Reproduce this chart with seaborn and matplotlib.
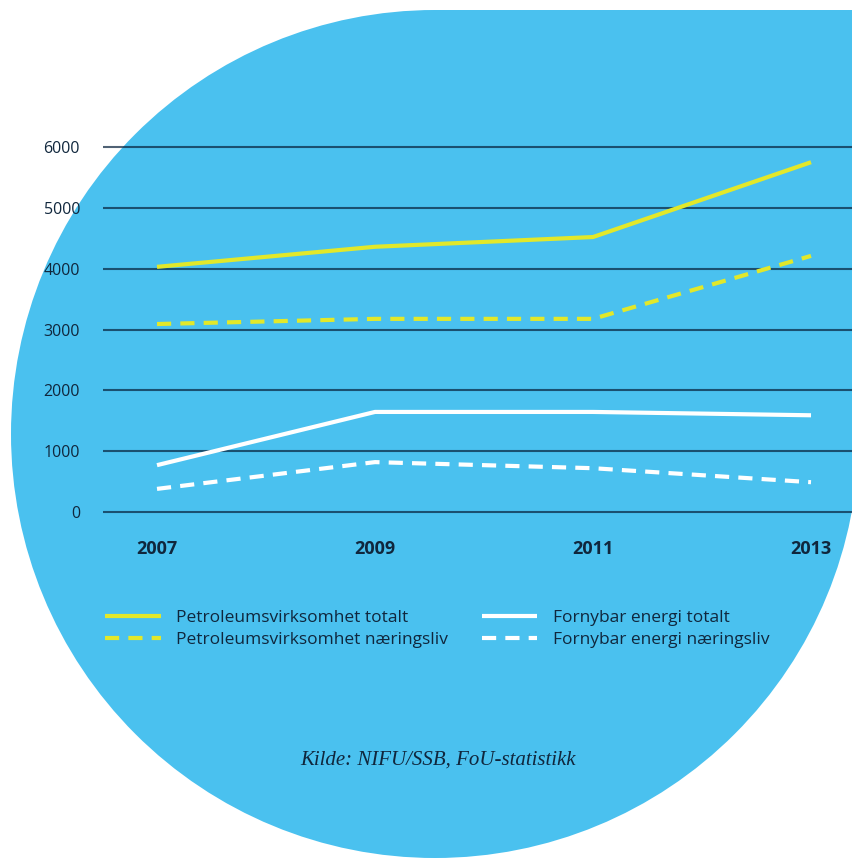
import matplotlib
matplotlib.use("Agg")
import matplotlib.pyplot as plt
from matplotlib.patches import Circle, Rectangle
import seaborn as sns

# ── Data (FoU-utgifter, mill. kr) ────────────────────────────
years = [2007, 2009, 2011, 2013]
petro_totalt = [4030, 4360, 4520, 5750]
petro_naering = [3090, 3175, 3175, 4210]
fornybar_totalt = [770, 1645, 1645, 1590]
fornybar_naering = [380, 820, 720, 490]

labels = [
    "Petroleumsvirksomhet totalt",
    "Petroleumsvirksomhet næringsliv",
    "Fornybar energi totalt",
    "Fornybar energi næringsliv",
]
y_ticks = [0, 1000, 2000, 3000, 4000, 5000, 6000]
source = "Kilde: NIFU/SSB, FoU-statistikk"

# ── Style ────────────────────────────────────────────────────
sns.set_style("white")
plt.rcParams["font.family"] = ["Open Sans", "DejaVu Sans"]

BLUE = "#4ac1ef"
YELLOW = "#e2e82a"
NAVY = "#10273d"
DASH = (0, (3.4, 2.2))

fig = plt.figure(figsize=(8.52, 8.58), dpi=100)
fig.patch.set_facecolor("white")

# background blob: circle + square top-right corner (pixel coords)
bg = fig.add_axes([0, 0, 1, 1])
bg.set_xlim(0, 852)
bg.set_ylim(858, 0)
bg.axis("off")
bg.add_patch(Circle((435, 434), 424, color=BLUE, lw=0))
bg.add_patch(Rectangle((435, 10), 430, 424, color=BLUE, lw=0))

# ── Chart ────────────────────────────────────────────────────
ax = fig.add_axes([103 / 852, 0.38199, 749 / 852, 0.46795])
ax.set_facecolor("none")

series = [
    (petro_totalt, YELLOW, "-"),
    (petro_naering, YELLOW, DASH),
    (fornybar_totalt, "white", "-"),
    (fornybar_naering, "white", DASH),
]
handles = []
for (vals, col, ls), lab in zip(series, labels):
    sns.lineplot(x=years, y=vals, color=col, linewidth=3.0, linestyle=ls,
                 errorbar=None, ax=ax)
    line = ax.lines[-1]
    line.set_label(lab)
    line.set_solid_capstyle("butt")
    handles.append(line)

ax.set_xlim(2006.5046, 2013.376)
ax.set_ylim(-300, 6300)
ax.set_xticks(years)
ax.set_xticklabels([str(y) for y in years], fontweight="bold", fontsize=13, color=NAVY)
ax.set_yticks(y_ticks)
ax.set_yticklabels([str(v) for v in y_ticks], fontsize=11.5, color=NAVY)
ax.tick_params(axis="x", length=0, pad=7)
ax.tick_params(axis="y", length=0, pad=16.5)
ax.yaxis.grid(True, color="#06203a", alpha=0.7, linewidth=1.5)
ax.xaxis.grid(False)
ax.set_xlabel("")
ax.set_ylabel("")
sns.despine(ax=ax, left=True, bottom=True)

leg = ax.legend(handles=handles, labels=labels, ncol=2, frameon=False,
                loc="upper left", bbox_to_anchor=(105 / 852, 1 - 610 / 858),
                bbox_transform=fig.transFigure, borderaxespad=0, borderpad=0,
                fontsize=12.5, labelcolor=NAVY, handlelength=3.2,
                handletextpad=0.9, columnspacing=1.95, labelspacing=0.32)

fig.text(300 / 852, 1 - 760 / 858, source, ha="left", va="center",
         family=["Liberation Serif", "DejaVu Serif"], style="italic",
         fontsize=15, color=NAVY)

fig.savefig("out.png", dpi=100)
